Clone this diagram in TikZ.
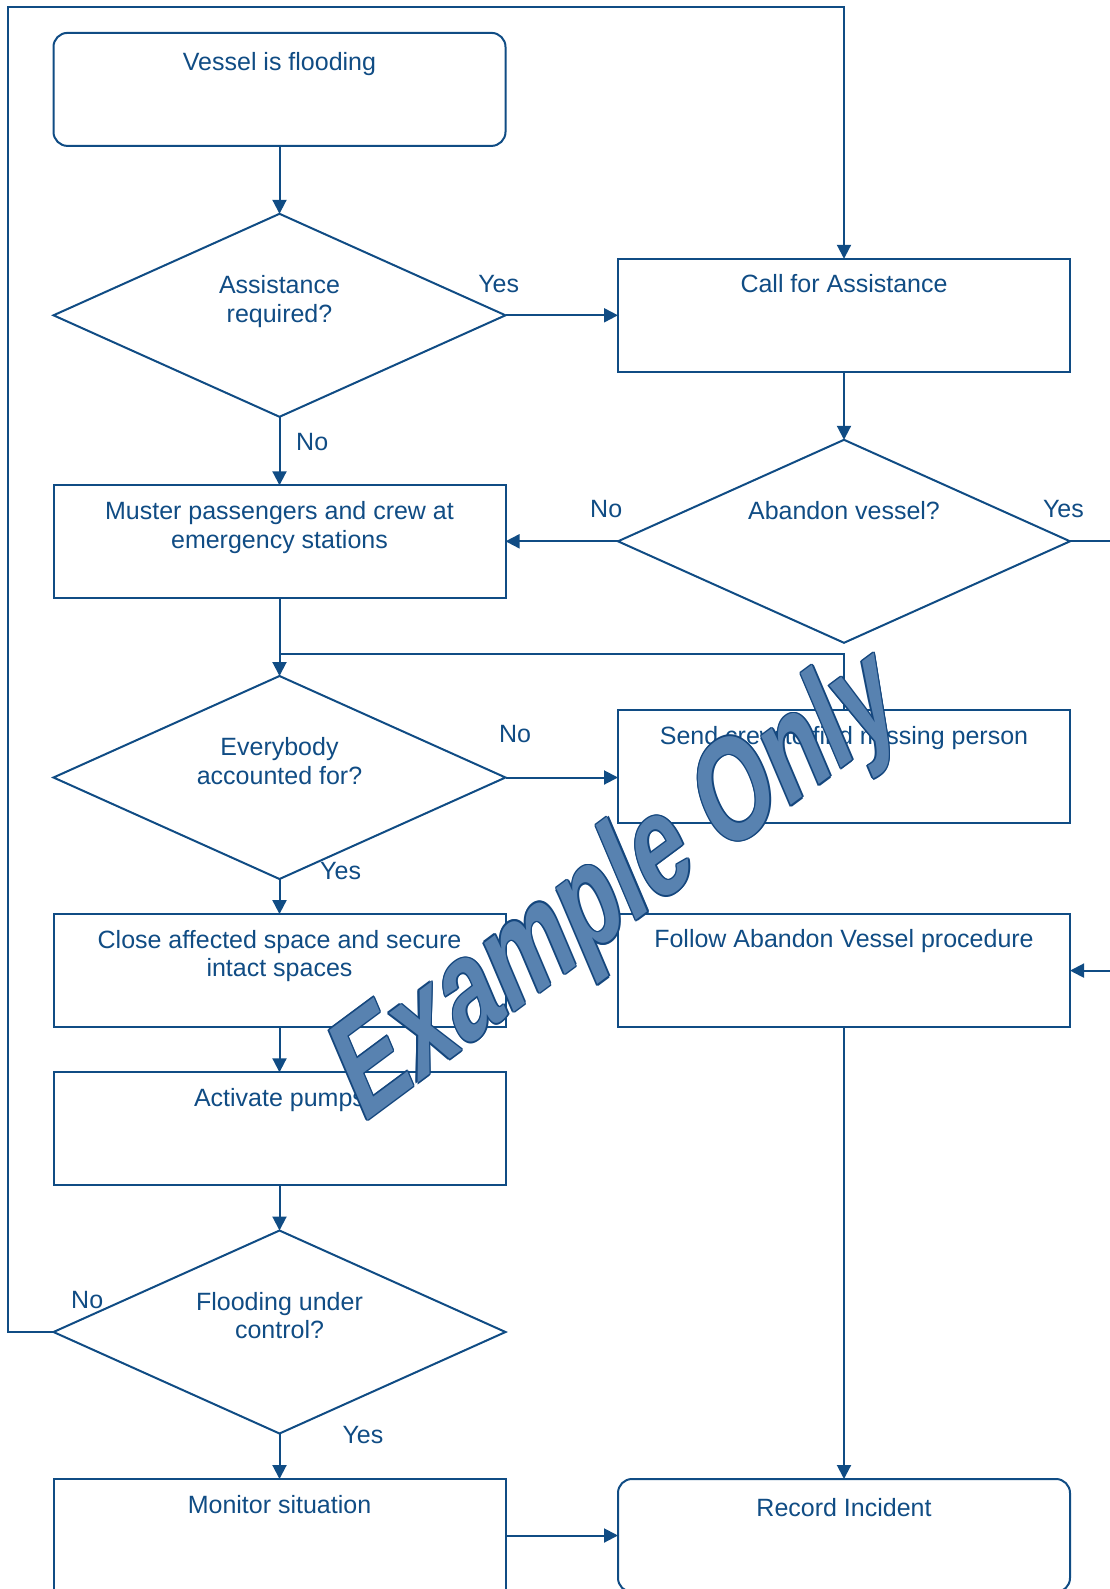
\documentclass[tikz,border=0pt]{standalone}
\usepackage{fontspec}
\setmainfont{Liberation Sans}
\usetikzlibrary{shapes.geometric, arrows.meta}
\definecolor{ink}{RGB}{16,76,132}
\definecolor{wmfill}{RGB}{88,130,176}
\definecolor{wmline}{RGB}{20,70,125}

\begin{document}
\begin{tikzpicture}[x=0.5pt, y=-0.5pt,
  every node/.style={inner sep=0pt, outer sep=0pt},
  flow/.style={draw=ink, line width=1pt},
  box/.style={flow, rectangle, minimum width=226pt, minimum height=56.5pt},
  rbox/.style={box, rounded corners=7pt},
  decision/.style={flow, diamond, minimum width=226pt, minimum height=101.5pt},
  txt/.style={text=ink, font=\fontsize{12.5pt}{14.2pt}\selectfont, align=center, anchor=north},
  tag/.style={text=ink, font=\fontsize{12.5pt}{14.2pt}\selectfont},
  conn/.style={draw=ink, line width=1pt, -{Triangle[length=7pt,width=7pt]}},
  wire/.style={draw=ink, line width=1pt},
  wm/.style={cm={0.819,0.608,-0.555,1.307,(0,0)}, transform shape, anchor=base west,
             font=\fontsize{50pt}{60pt}\selectfont\bfseries}
]
\useasboundingbox (0,0) rectangle (1109,1589);

% ---- shapes ----
\node[rbox]     (vessel)   at (279.5, 89.4)  {};
\node[decision] (assist)   at (279.5, 315.3) {};
\node[box]      (call)     at (844, 315.3)   {};
\node[decision] (abandon)  at (844, 541.3)   {};
\node[box]      (muster)   at (279.5, 541.8) {};
\node[decision] (every)    at (279.5, 777.5) {};
\node[box]      (send)     at (844, 766.9)   {};
\node[box]      (close)    at (279.5, 970.6) {};
\node[box]      (follow)   at (844, 970.6)   {};
\node[box]      (activate) at (279.5, 1128.8) {};
\node[decision] (flood)    at (279.5, 1332)  {};
\node[box]      (monitor)  at (279.5, 1535.5) {};
\node[rbox]     (record)   at (844, 1535.5)  {};

% ---- texts ----
\node[txt] (vessel-t)   at (279.5, 52.2)   {Vessel is flooding};
\node[txt] (assist-t)   at (279.5, 275.6)  {Assistance\\required?};
\node[txt] (call-t)     at (844, 274.5)    {Call for Assistance};
\node[txt] (abandon-t)  at (844, 501.6)    {Abandon vessel?};
\node[txt] (muster-t)   at (279.5, 501.6)  {Muster passengers and crew at\\emergency stations};
\node[txt] (every-t)    at (279.5, 737.8)  {Everybody\\accounted for?};
\node[txt] (send-t)     at (844, 726.6)    {Send crew to find missing person};
\node[txt] (close-t)    at (279.5, 930.4)  {Close affected space and secure\\intact spaces};
\node[txt] (follow-t)   at (844, 929.6)    {Follow Abandon Vessel procedure};
\node[txt] (activate-t) at (279.5, 1088.5) {Activate pumps};
\node[txt] (flood-t)    at (279.5, 1292.3) {Flooding under\\control?};
\node[txt] (monitor-t)  at (279.5, 1495)   {Monitor situation};
\node[txt] (record-t)   at (844, 1498.7)   {Record Incident};

% ---- branch labels ----
\node[tag] (yes1) at (498.7, 283.8)  {Yes};
\node[tag] (no1)  at (312.2, 442)    {No};
\node[tag] (no2)  at (606.2, 508.9)  {No};
\node[tag] (yes2) at (1063.4, 508.9) {Yes};
\node[tag] (no3)  at (515, 734)      {No};
\node[tag] (yes3) at (340.6, 870.8)  {Yes};
\node[tag] (no4)  at (87.2, 1299.6)  {No};
\node[tag] (yes4) at (362.9, 1435.4) {Yes};

% ---- connectors ----
\coordinate (loopcorner) at (8.3, 6.7);
\coordinate (rejoin) at (279.5, 653.8);
\coordinate (offpage) at (1140, 541.3);

\draw[conn] (vessel.south) -- (assist.north);
\draw[conn] (assist.east) -- (call.west);
\draw[conn] (assist.south) -- (muster.north);
\draw[conn] (call.south) -- (abandon.north);
\draw[conn] (abandon.west) -- (abandon.west -| muster.east);
\draw[conn] (abandon.east) -- (offpage) |- (follow.east);
\draw[conn] (muster.south) -- (every.north);
\draw[wire] (send.north) |- (rejoin);
\draw[conn] (every.east) -- (every.east -| send.west);
\draw[conn] (every.south) -- (close.north);
\draw[conn] (close.south) -- (activate.north);
\draw[conn] (activate.south) -- (flood.north);
\draw[conn] (flood.west) -| (loopcorner) -| (call.north);
\draw[conn] (flood.south) -- (monitor.north);
\draw[conn] (monitor.east) -- (record.west);
\draw[conn] (follow.south) -- (record.north);

% ---- slanted watermark: dark rim from shifted copies, lighter face on top ----
\begin{scope}[shift={(362.4,1124.2)}]
  \foreach \p [count=\i] in {(1.5,0),(-1.5,0),(0,1.5),(0,-1.5),(1.05,1.05),(1.05,-1.05),(-1.05,1.05),(-1.05,-1.05)}
    \node[shift={\p}, wm, text=wmline] (wm-edge-\i) at (0,0) {Example Only};
  \node[wm, text=wmfill] (watermark) at (0,0) {Example Only};
\end{scope}
\end{tikzpicture}
\end{document}
